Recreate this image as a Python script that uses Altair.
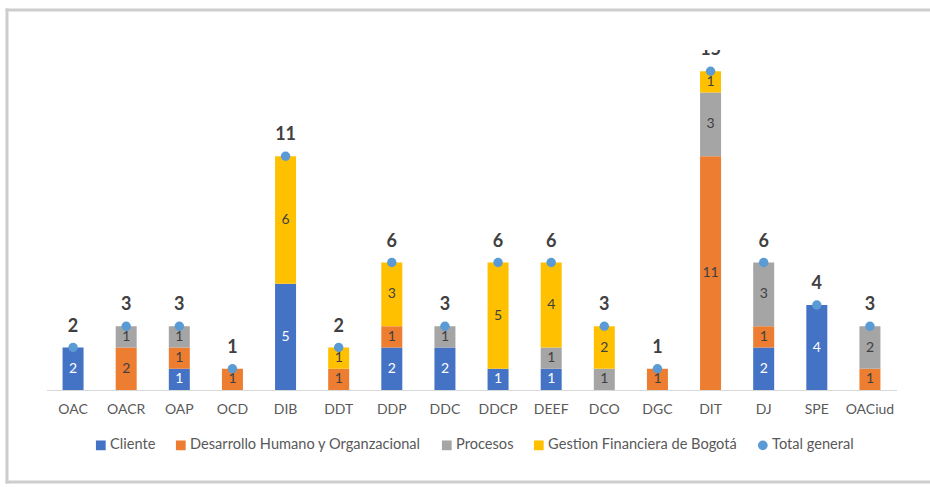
import altair as alt
import pandas as pd

categories = ["OAC", "OACR", "OAP", "OCD", "DIB", "DDT", "DDP", "DDC",
              "DDCP", "DEEF", "DCO", "DGC", "DIT", "DJ", "SPE", "OACiud"]
series = ["Cliente", "Desarrollo Humano y Organzacional", "Procesos",
          "Gestion Financiera de Bogotá"]
total_name = "Total general"
cliente = [2, 0, 1, 0, 5, 0, 2, 2, 1, 1, 0, 0, 0, 2, 4, 0]
desarrollo = [0, 2, 1, 1, 0, 1, 1, 0, 0, 0, 0, 1, 11, 1, 0, 1]
procesos = [0, 1, 1, 0, 0, 0, 0, 1, 0, 1, 1, 0, 3, 3, 0, 2]
gestion = [0, 0, 0, 0, 6, 1, 3, 0, 5, 4, 2, 0, 1, 0, 0, 0]
total = [2, 3, 3, 1, 11, 2, 6, 3, 6, 6, 3, 1, 15, 6, 4, 3]
colors = ["#4472C4", "#ED7D31", "#A5A5A5", "#FFC000", "#5B9BD5"]
label_colors = ["#FFFFFF", "#404040", "#404040", "#404040"]

FONT = "Lato"

rows = []
for si, (name, vals) in enumerate(zip(series, [cliente, desarrollo, procesos, gestion])):
    for c, v in zip(categories, vals):
        if v > 0:
            rows.append({"cat": c, "serie": name, "value": v, "ord": si,
                         "lab": label_colors[si]})
bars_df = pd.DataFrame(rows)
tot_df = pd.DataFrame({"cat": categories, "value": total, "serie": total_name})

all_series = series + [total_name]
color_scale = alt.Scale(domain=all_series, range=colors)
shape_scale = alt.Scale(domain=all_series,
                        range=["square", "square", "square", "square", "circle"])
legend = alt.Legend(title=None, orient="none", direction="horizontal",
                    legendX=47, legendY=388, labelFont=FONT, labelFontSize=14.6,
                    labelColor="#595959", symbolSize=95, columnPadding=18,
                    labelOffset=2, symbolStrokeWidth=0, labelLimit=0)

x_enc = alt.X("cat:N", sort=categories, title=None,
              axis=alt.Axis(labelAngle=0, ticks=False, domainColor="#D9D9D9",
                            domainWidth=1.2, labelFont=FONT, labelFontSize=14,
                            labelColor="#595959", labelPadding=12))
y_scale = alt.Scale(domain=[0, 16], nice=False)

bars = alt.Chart(bars_df).mark_bar(size=21).encode(
    x=x_enc,
    y=alt.Y("value:Q", stack="zero", scale=y_scale, axis=None),
    color=alt.Color("serie:N", scale=color_scale, legend=legend),
    order=alt.Order("ord:Q"),
)

seg_text = alt.Chart(bars_df).transform_stack(
    stack="value", as_=["y0", "y1"], groupby=["cat"], sort=[alt.SortField("ord")]
).transform_calculate(
    mid="(datum.y0 + datum.y1) / 2"
).mark_text(font=FONT, fontSize=14, baseline="middle").encode(
    x=alt.X("cat:N", sort=categories),
    y=alt.Y("mid:Q", scale=y_scale),
    text="value:Q",
    color=alt.Color("lab:N", scale=None),
)

points = alt.Chart(tot_df).mark_point(filled=True, size=90, opacity=1).encode(
    x=alt.X("cat:N", sort=categories),
    y=alt.Y("value:Q", scale=y_scale),
    color=alt.Color("serie:N", scale=color_scale, legend=legend),
    shape=alt.Shape("serie:N", scale=shape_scale, legend=legend),
)

tot_text = alt.Chart(tot_df).mark_text(
    font=FONT, fontSize=18, fontWeight="bold", color="#404040",
    baseline="alphabetic", dy=-16, clip=True
).encode(
    x=alt.X("cat:N", sort=categories),
    y=alt.Y("value:Q", scale=y_scale),
    text="value:Q",
)

# decorative frame (left, top, bottom edges) like the screenshot border
fr = pd.DataFrame({"k": [0]})
frame_style = dict(color="#CDCDCD", strokeWidth=3)
frame_left = alt.Chart(fr).mark_rule(**frame_style).encode(
    x=alt.value(-39.5), x2=alt.value(-39.5), y=alt.value(-41.5), y2=alt.value(433.5))
frame_top = alt.Chart(fr).mark_rule(**frame_style).encode(
    x=alt.value(-41), x2=alt.value(890), y=alt.value(-40), y2=alt.value(-40))
frame_bottom = alt.Chart(fr).mark_rule(**frame_style).encode(
    x=alt.value(-41), x2=alt.value(890), y=alt.value(432), y2=alt.value(432))

chart = alt.layer(frame_left, frame_top, frame_bottom,
                  bars, seg_text, points, tot_text).properties(
    width=850, height=340,
    autosize=alt.AutoSizeParams(type="none"),
    padding={"left": 46.5, "top": 50, "right": 33.5, "bottom": 97},
).configure_view(strokeWidth=0, stroke=None)

chart.save("out.html", embed_options={"renderer": "svg", "actions": False})
